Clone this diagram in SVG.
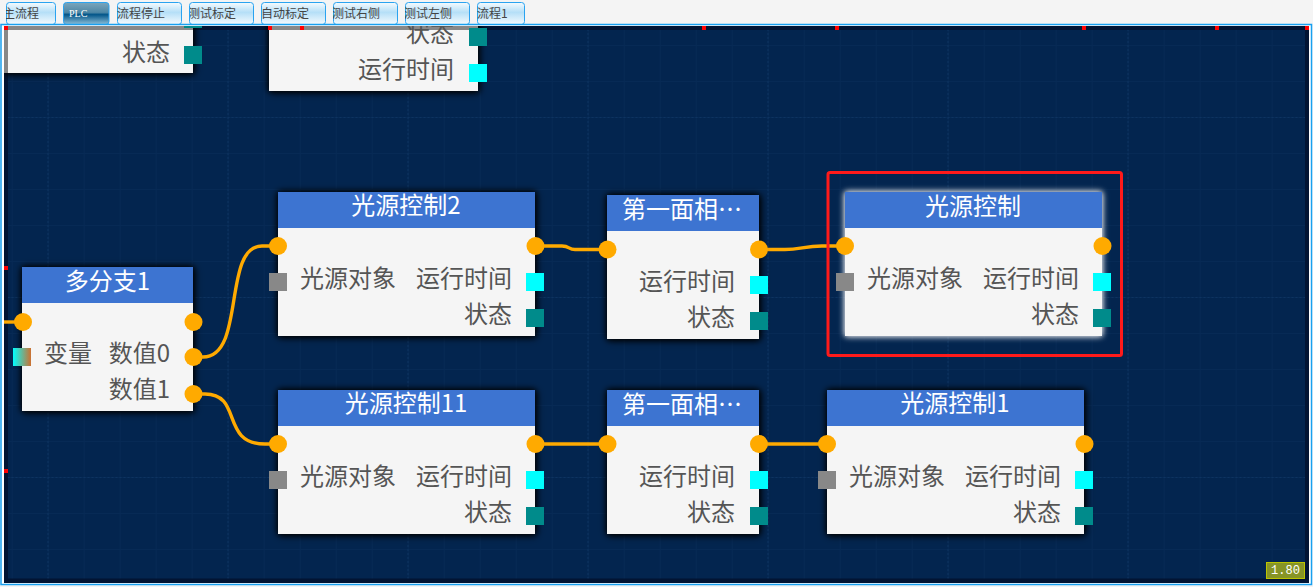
<svg xmlns="http://www.w3.org/2000/svg" width="1313" height="587" viewBox="0 0 1313 587">
<style>
text{font-family:"Noto Sans CJK SC","Noto Sans",sans-serif}
.body{fill:#f5f5f5}
.head{fill:#3d74d1}
.title{font-size:24px;fill:#fff;text-anchor:middle}
.lab{font-size:24px;fill:#555}
.end{text-anchor:end}
.dot{fill:#ffaa00}
.sq{width:18px;height:18px}
.grey{fill:#888}
.cy{fill:#0ff}
.teal{fill:#008b8b}
.wire{fill:none;stroke:#ffaa00;stroke-width:3.4}
.tab{stroke:#2aa3f0;stroke-width:1;fill:url(#tabg)}
.tabt{font-size:12px;fill:#444}
.mark{fill:#f00}
</style>
<defs>
<linearGradient id="tabg" x1="0" y1="0" x2="0" y2="1"><stop offset="0" stop-color="#f6fbfe"/><stop offset=".45" stop-color="#b5dff7"/><stop offset="1" stop-color="#f6fbfe"/></linearGradient>
<linearGradient id="taba" x1="0" y1="0" x2="0" y2="1"><stop offset="0" stop-color="#7ba6bc"/><stop offset=".45" stop-color="#4d87a6"/><stop offset=".55" stop-color="#03568a"/><stop offset="1" stop-color="#8fc0d8"/></linearGradient>
<linearGradient id="mix" x1="0" y1="0" x2="1" y2="0"><stop offset="0" stop-color="#0ff"/><stop offset="1" stop-color="#cd7030"/></linearGradient>
<pattern id="minor" width="36" height="36" patternUnits="userSpaceOnUse" x="11.7" y="9">
<path d="M.5 0V36M0 .5H36" fill="none" stroke="#072a55" stroke-width="1"/>
</pattern>
<pattern id="major" width="180" height="180" patternUnits="userSpaceOnUse" x="47.5" y="117">
<path d="M.5 0V180M0 .5H180" fill="none" stroke="#0d3361" stroke-width="1" stroke-dasharray="2 2"/>
</pattern>
<filter id="sh" x="-20%" y="-20%" width="140%" height="140%"><feDropShadow dx="0" dy="0" stdDeviation="3" flood-color="#000" flood-opacity="1"/><feDropShadow dx="1" dy="1" stdDeviation="3" flood-color="#000" flood-opacity=".8"/></filter>
<filter id="glow" x="-20%" y="-20%" width="140%" height="140%"><feDropShadow dx="0" dy="0" stdDeviation="3" flood-color="#fff" flood-opacity=".9"/><feDropShadow dx="0" dy="0" stdDeviation="2" flood-color="#9aa6b8" flood-opacity=".7"/></filter>
<clipPath id="canvas"><rect x="4" y="26" width="1305" height="557"/></clipPath>
<clipPath id="c1"><rect x="6" y="0" width="50" height="24"/></clipPath>
<clipPath id="c4"><rect x="190" y="0" width="63" height="24"/></clipPath>
<clipPath id="c6"><rect x="333" y="0" width="64" height="24"/></clipPath>
<clipPath id="c7"><rect x="405" y="0" width="64" height="24"/></clipPath>
</defs>
<rect width="1313" height="587" fill="#f4f4f4"/>
<g id="tabs">
<rect class="tab" x="6.5" y="2.5" width="49" height="22" rx="3"/><text class="tabt" x="3" y="18" clip-path="url(#c1)">主流程</text>
<rect class="tab" style="fill:url(#taba)" x="63.5" y="2.5" width="45.500" height="22" rx="3"/><text x="69" y="17" style="font-family:'Liberation Serif',serif;font-size:10px;fill:#fff">PLC</text>
<rect class="tab" x="117.500" y="2.5" width="64" height="22" rx="3"/><text class="tabt" x="117" y="18">流程停止</text>
<rect class="tab" x="189.500" y="2.5" width="64" height="22" rx="3"/><text class="tabt" x="188" y="18" clip-path="url(#c4)">测试标定</text>
<rect class="tab" x="261.500" y="2.5" width="64" height="22" rx="3"/><text class="tabt" x="261" y="18">自动标定</text>
<rect class="tab" x="333.500" y="2.5" width="64" height="22" rx="3"/><text class="tabt" x="332" y="18" clip-path="url(#c6)">测试右侧</text>
<rect class="tab" x="405.500" y="2.500" width="64" height="22" rx="3"/><text class="tabt" x="404" y="18" clip-path="url(#c7)">测试左侧</text>
<rect class="tab" x="477.500" y="2.500" width="47" height="22" rx="3"/><text class="tabt" x="477" y="18">流程1</text>
</g>
<g id="frame">
<rect x="1" y="24.500" width="1310.500" height="560" fill="#fff" stroke="#18a0f0" stroke-width="1.500"/>
<rect x="4" y="26" width="1305" height="557" fill="#03254f"/>
<rect x="4" y="26" width="1305" height="557" fill="url(#minor)"/>
<rect x="4" y="26" width="1305" height="557" fill="url(#major)"/>
<path d="M4 26H1309V583H4ZM8 30V578.500H1305V30Z" fill="#021433" fill-rule="evenodd"/>
</g>
<g id="n0" clip-path="url(#canvas)">
<g filter="url(#sh)"><rect class="body" x="4" y="20" width="189" height="53"/></g>
<path class="grey" d="M4 26H193V30H8V73H4Z"/>
<text class="lab end" x="170" y="61">状态</text>
<rect class="sq teal" x="184" y="46"/>
<rect class="teal" x="184" y="26" width="18" height="2"/>
</g>
<g id="n1" clip-path="url(#canvas)">
<g filter="url(#sh)"><rect class="body" x="269" y="20" width="209" height="71"/></g>
<rect class="grey" x="269" y="26" width="209" height="4"/>
<text class="lab end" x="454" y="42">状态</text>
<text class="lab end" x="454" y="78">运行时间</text>
<rect class="sq teal" x="469" y="28"/>
<rect class="sq cy" x="469" y="64"/>
</g>
<g id="connectors">
<path class="wire" d="M4 322H23"/>
<path class="wire" d="M193 357H203C246 357 222 246 262 246H278"/>
<path class="wire" d="M193 394H205C243 394 220 444 265 444H278"/>
<path class="wire" d="M535 246H562C570 246 568 249.500 575 249.500H607"/>
<path class="wire" d="M759 249.500H785C800 249.500 805 246 822 246H845"/>
<path class="wire" d="M535 444H607"/>
<path class="wire" d="M759 444H827"/>
</g>
<g id="n2">
<g filter="url(#sh)"><rect class="body" x="22" y="267" width="171" height="144"/></g>
<rect class="head" x="22" y="267" width="171" height="36"/>
<text class="title" x="107.500" y="290">多分支1</text>
<circle class="dot" cx="23" cy="322" r="9"/><circle class="dot" cx="193.500" cy="322" r="9"/>
<circle class="dot" cx="193.500" cy="357" r="9"/><circle class="dot" cx="193.500" cy="394" r="9"/>
<rect class="sq" x="13" y="348" fill="url(#mix)"/>
<text class="lab" x="44" y="362">变量</text>
<text class="lab end" x="170" y="362">数值0</text>
<text class="lab end" x="170" y="398">数值1</text>
</g>
<g id="n3">
<g filter="url(#sh)"><rect class="body" x="278" y="192" width="257" height="144"/></g>
<rect class="head" x="278" y="192" width="257" height="36"/>
<text class="title" x="406" y="214">光源控制2</text>
<circle class="dot" cx="278" cy="246" r="9"/><circle class="dot" cx="535.500" cy="246" r="9"/>
<rect class="sq grey" x="269" y="273"/><rect class="sq cy" x="526" y="273"/><rect class="sq teal" x="526" y="309"/>
<text class="lab" x="300" y="287">光源对象</text>
<text class="lab end" x="512" y="287">运行时间</text>
<text class="lab end" x="512" y="323">状态</text>
</g>
<g id="n4">
<g filter="url(#sh)"><rect class="body" x="607" y="195" width="152" height="144"/></g>
<rect class="head" x="607" y="195" width="152" height="36"/>
<text class="title" x="682" y="218">第一面相⋯</text>
<circle class="dot" cx="607.500" cy="249.500" r="9"/><circle class="dot" cx="759" cy="249.500" r="9"/>
<rect class="sq cy" x="750" y="276"/><rect class="sq teal" x="750" y="312"/>
<text class="lab end" x="735" y="290">运行时间</text>
<text class="lab end" x="735" y="326">状态</text>
</g>
<g id="n5">
<g filter="url(#glow)"><rect class="body" x="845" y="192" width="257" height="144"/></g>
<rect class="head" x="845" y="192" width="257" height="36"/>
<text class="title" x="973" y="215">光源控制</text>
<circle class="dot" cx="845" cy="246" r="9"/><circle class="dot" cx="1102.500" cy="246" r="9"/>
<rect class="sq grey" x="836" y="273"/><rect class="sq cy" x="1093" y="273"/><rect class="sq teal" x="1093" y="309"/>
<text class="lab" x="867" y="287">光源对象</text>
<text class="lab end" x="1079" y="287">运行时间</text>
<text class="lab end" x="1079" y="323">状态</text>
<rect x="828" y="172.500" width="293.500" height="183" rx="2" fill="none" stroke="#ff1a1a" stroke-width="3"/>
</g>
<g id="n6">
<g filter="url(#sh)"><rect class="body" x="278" y="390" width="257" height="144"/></g>
<rect class="head" x="278" y="390" width="257" height="36"/>
<text class="title" x="406" y="412">光源控制11</text>
<circle class="dot" cx="278" cy="444" r="9"/><circle class="dot" cx="535.500" cy="444" r="9"/>
<rect class="sq grey" x="269" y="471"/><rect class="sq cy" x="526" y="471"/><rect class="sq teal" x="526" y="507"/>
<text class="lab" x="300" y="485">光源对象</text>
<text class="lab end" x="512" y="485">运行时间</text>
<text class="lab end" x="512" y="521">状态</text>
</g>
<g id="n7">
<g filter="url(#sh)"><rect class="body" x="607" y="390" width="152" height="144"/></g>
<rect class="head" x="607" y="390" width="152" height="36"/>
<text class="title" x="682" y="413">第一面相⋯</text>
<circle class="dot" cx="607.500" cy="444" r="9"/><circle class="dot" cx="759" cy="444" r="9"/>
<rect class="sq cy" x="750" y="471"/><rect class="sq teal" x="750" y="507"/>
<text class="lab end" x="735" y="485">运行时间</text>
<text class="lab end" x="735" y="521">状态</text>
</g>
<g id="n8">
<g filter="url(#sh)"><rect class="body" x="827" y="390" width="257" height="144"/></g>
<rect class="head" x="827" y="390" width="257" height="36"/>
<text class="title" x="955" y="412">光源控制1</text>
<circle class="dot" cx="827" cy="444" r="9"/><circle class="dot" cx="1084.500" cy="444" r="9"/>
<rect class="sq grey" x="818" y="471"/><rect class="sq cy" x="1075" y="471"/><rect class="sq teal" x="1075" y="507"/>
<text class="lab" x="849" y="485">光源对象</text>
<text class="lab end" x="1061" y="485">运行时间</text>
<text class="lab end" x="1061" y="521">状态</text>
</g>
<g id="marks">
<rect class="mark" x="4" y="26" width="4" height="4"/><rect class="mark" x="268" y="26" width="4" height="4"/><rect class="mark" x="300" y="26" width="4" height="4"/>
<rect class="mark" x="702" y="26" width="4" height="4"/><rect class="mark" x="835" y="26" width="4" height="4"/><rect class="mark" x="1082" y="26" width="4" height="4"/><rect class="mark" x="1215" y="26" width="4" height="4"/><rect class="mark" x="1305" y="26" width="4" height="4"/>
<rect class="mark" x="4" y="266" width="4" height="4"/><rect class="mark" x="4" y="469" width="4" height="4"/>
</g>
<g id="zoom-badge">
<rect x="1266.500" y="562.500" width="38" height="16" fill="#879426" stroke="#bcc400"/>
<text x="1285.500" y="574" text-anchor="middle" style="font-family:'Liberation Mono',monospace;font-size:12px;fill:#fff">1.80</text>
</g>
</svg>
